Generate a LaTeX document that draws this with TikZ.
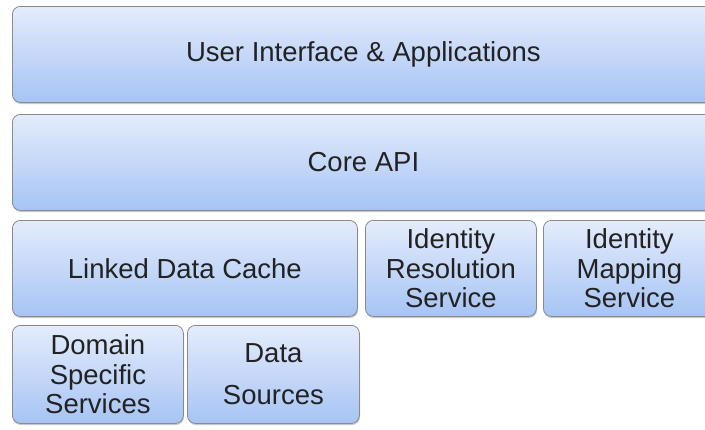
\documentclass[tikz,border=0pt]{standalone}
\usepackage{fontspec}
\setmainfont{Liberation Sans}
\usetikzlibrary{shadows}
\definecolor{boxtop}{RGB}{228,236,252}
\definecolor{boxbot}{RGB}{166,196,244}
\definecolor{boxline}{RGB}{138,138,138}
\definecolor{boxtext}{RGB}{34,34,34}
\tikzset{
  layer/.style={draw=boxline, line width=0.8pt, rounded corners=8pt,
    top color=boxtop, bottom color=boxbot, inner sep=0pt, anchor=north west,
    align=center, text=boxtext,
    font=\fontsize{27.5}{29.5}\selectfont,
    drop shadow={shadow xshift=0.6pt, shadow yshift=-1.6pt, opacity=0.35, fill=black!60}}
}
\begin{document}
\begin{tikzpicture}[x=1pt,y=-1pt]
\useasboundingbox (0,0) rectangle (705,429);
\clip (0,0) rectangle (705,429);
\fill[white] (0,0) rectangle (705,429);
\node[layer, minimum width=702pt, minimum height=96pt] (ui) at (12,6) {User Interface \& Applications};
\node[layer, minimum width=702pt, minimum height=96pt] (core) at (12,114) {Core API};
\node[layer, minimum width=345pt, minimum height=96pt] (ldc) at (12,220) {Linked Data Cache};
\node[layer, minimum width=171pt, minimum height=96pt] (irs) at (365,220) {Identity\\Resolution\\Service};
\node[layer, minimum width=172pt, minimum height=96pt] (ims) at (543,220) {Identity\\Mapping\\Service};
\node[layer, minimum width=171pt, minimum height=98pt] (dss) at (12,325) {Domain\\Specific\\Services};
\node[layer, minimum width=172pt, minimum height=98pt] (ds) at (187,325) {\raisebox{0pt}[0pt][0pt]{}Data\\[13pt]Sources};
\end{tikzpicture}
\end{document}
